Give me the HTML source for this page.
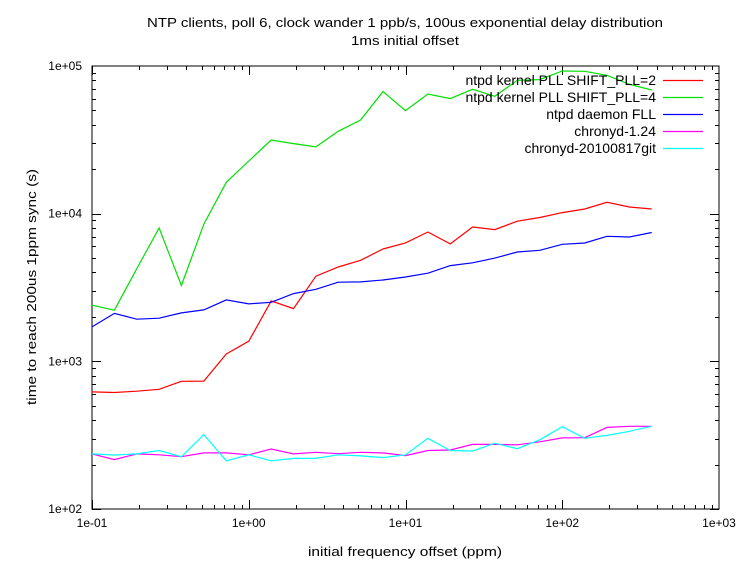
<!DOCTYPE html>
<html><head><meta charset="utf-8"><style>
html,body{margin:0;padding:0;background:#fff;}
svg{display:block;font-family:"Liberation Sans","DejaVu Sans",sans-serif;}
</style></head><body>
<svg id="chart" width="738" height="563" viewBox="0 0 738 563" xmlns="http://www.w3.org/2000/svg">
<rect x="0" y="0" width="738" height="563" fill="#fff"/>
<text x="405" y="27" text-anchor="middle" font-size="13" textLength="516" lengthAdjust="spacingAndGlyphs">NTP clients, poll 6, clock wander 1 ppb/s, 100us exponential delay distribution</text>
<text x="405" y="45" text-anchor="middle" font-size="13" textLength="108" lengthAdjust="spacingAndGlyphs">1ms initial offset</text>
<text x="405" y="556" text-anchor="middle" font-size="13" textLength="194" lengthAdjust="spacingAndGlyphs">initial frequency offset (ppm)</text>
<text transform="translate(36,287) rotate(-90)" text-anchor="middle" font-size="13" textLength="236" lengthAdjust="spacingAndGlyphs">time to reach 200us 1ppm sync (s)</text>
<g id="axes"></g>
<g id="series"></g>
<g id="legend"></g>
</svg>
<script>
const xValues = [0.1,0.139,0.193,0.268,0.372,0.517,0.719,1.0,1.39,1.93,2.68,3.72,5.17,7.19,10,13.9,19.3,26.8,37.2,51.7,71.9,100,139,193,268,372];
const seriesNames = ["ntpd kernel PLL SHIFT_PLL=2","ntpd kernel PLL SHIFT_PLL=4","ntpd daemon FLL","chronyd-1.24","chronyd-20100817git"];
const kernel2 = [621,615,628,647,733,735,1122,1368,2564,2277,3770,4355,4831,5768,6336,7516,6237,8128,7800,8890,9420,10170,10760,11940,11100,10760];
const kernel4 = [2399,2218,4246,8000,3260,8480,16310,22750,31550,29800,28310,36140,43060,67100,49890,64600,60130,69500,62370,80000,80900,92500,92000,86500,75200,68800];
const daemonFll = [1710,2110,1928,1960,2128,2230,2606,2450,2512,2877,3076,3435,3450,3557,3725,3950,4450,4650,5000,5500,5650,6200,6330,7030,6950,7450];
const chrony124 = [236,216,236,233,226,240,240,233,255,236,242,237,242,240,230,249,251,274,274,272,285,303,304,357,363,363];
const chronyGit = [236,232,236,249,226,319,212,233,212,220,220,233,229,223,233,301,249,247,279,256,294,361,301,315,336,363];
const xTickLabels = ["1e-01","1e+00","1e+01","1e+02","1e+03"];
const yTickLabels = ["1e+02","1e+03","1e+04","1e+05"];
const colors = ["#ff0000","#00e000","#0000ff","#ff00ff","#00ffff"];

const L=92,R=719,T=66,B=509;
const NS="http://www.w3.org/2000/svg";
function xs(v){return L+(Math.log10(v)+1)/4*(R-L);}
function ys(v){return B-(Math.log10(v)-2)/3*(B-T);}
function mk(tag,attrs,parent){const e=document.createElementNS(NS,tag);for(const k in attrs)e.setAttribute(k,attrs[k]);parent.appendChild(e);return e;}
const axes=document.getElementById('axes');
const frame=mk('rect',{x:L,y:T,width:R-L,height:B-T,fill:'none',stroke:'#000','stroke-width':1},axes);


for(let d=-1;d<3;d++){for(let m=1;m<10;m++){const v=m*Math.pow(10,d);const x=Math.round(xs(v))+0.5;const len=m===1?9:4;
 mk('line',{x1:x,y1:B,x2:x,y2:B-len,stroke:'#000'},axes);mk('line',{x1:x,y1:T,x2:x,y2:T+len,stroke:'#000'},axes);}}
xTickLabels.forEach((t,i)=>{const v=Math.pow(10,i-1);const tx=mk('text',{x:xs(v),y:527,'text-anchor':'middle','font-size':12},axes);tx.textContent=t;
 
 });
for(let d=2;d<5;d++){for(let m=1;m<10;m++){const v=m*Math.pow(10,d);const y=Math.round(ys(v))+0.5;const len=m===1?9:4;
 mk('line',{x1:L,y1:y,x2:L+len,y2:y,stroke:'#000'},axes);mk('line',{x1:R,y1:y,x2:R-len,y2:y,stroke:'#000'},axes);}}
yTickLabels.forEach((t,i)=>{const v=Math.pow(10,i+2);const tx=mk('text',{x:82,y:ys(v)+4,'text-anchor':'end','font-size':12},axes);tx.textContent=t;
 
 });
const sg=document.getElementById('series');
const allSeries=[kernel2,kernel4,daemonFll,chrony124,chronyGit];
const sNames=['kernel-pll-2-line','kernel-pll-4-line','daemon-fll-line','chronyd-124-line','chronyd-git-line'];
allSeries.forEach((s,i)=>{const pts=s.map((v,j)=>xs(xValues[j]).toFixed(1)+','+ys(v).toFixed(1)).join(' ');
 const pl=mk('polyline',{points:pts,fill:'none',stroke:colors[i],'stroke-width':1.2},sg);
 
 });
const lg=document.getElementById('legend');
seriesNames.forEach((n,i)=>{const y=80+i*17;const g=mk('g',{},lg);
 
 
 const t=mk('text',{x:656,y:y+5,'text-anchor':'end','font-size':14},g);t.textContent=n;
 mk('line',{x1:663,y1:y+0.5,x2:703,y2:y+0.5,stroke:colors[i],'stroke-width':1.2},g);});
</script>
</body></html>
